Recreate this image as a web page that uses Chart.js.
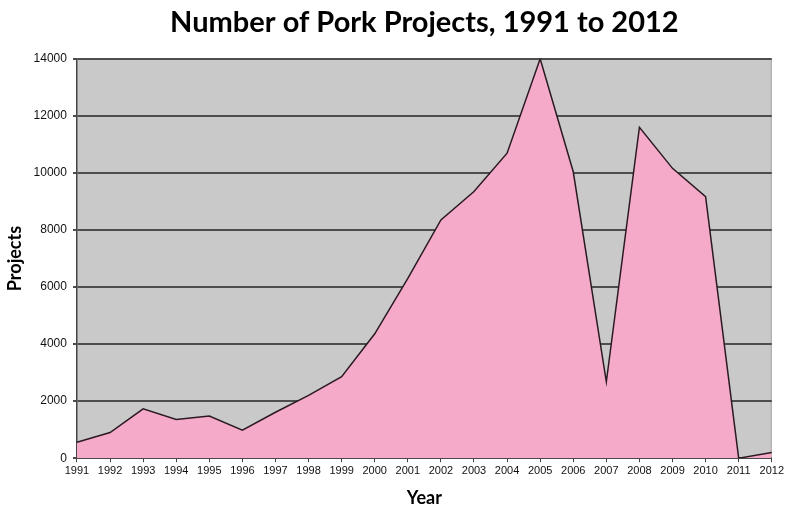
<!DOCTYPE html>
<html>
<head>
<meta charset="utf-8">
<script src="https://cdn.jsdelivr.net/npm/chart.js@4/dist/chart.umd.min.js"></script>
<style>
html,body{margin:0;padding:0;background:#fff;}
#wrap{width:786px;height:513px;}
</style>
</head>
<body>
<div id="wrap"><canvas id="c" width="786" height="513"></canvas></div>
<script>
const years = ["1991","1992","1993","1994","1995","1996","1997","1998","1999","2000","2001","2002","2003","2004","2005","2006","2007","2008","2009","2010","2011","2012"];
const projects = [560, 900, 1730, 1360, 1480, 980, 1610, 2200, 2860, 4360, 6300, 8350, 9350, 10690, 14000, 10040, 2680, 11600, 10160, 9170, 0, 200];
const yTicks = [0, 2000, 4000, 6000, 8000, 10000, 12000, 14000];

const plotBg = {
  id: 'plotBg',
  beforeDraw(chart) {
    const {ctx, chartArea: a} = chart;
    ctx.save();
    ctx.fillStyle = '#c9c9c9';
    ctx.fillRect(a.left, a.top, a.right - a.left, a.bottom - a.top);
    ctx.strokeStyle = '#a8a8a8';
    ctx.lineWidth = 1;
    ctx.beginPath();
    ctx.moveTo(a.left, a.top + 0.5);
    ctx.lineTo(a.right - 0.5, a.top + 0.5);
    ctx.lineTo(a.right - 0.5, a.bottom);
    ctx.stroke();
    ctx.restore();
  }
};

new Chart(document.getElementById('c'), {
  type: 'line',
  data: {
    labels: years,
    datasets: [{
      data: projects,
      fill: 'origin',
      backgroundColor: '#f5aac9',
      borderColor: '#2b1a22',
      borderWidth: 1.5,
      pointRadius: 0,
      tension: 0
    }]
  },
  options: {
    responsive: false,
    animation: false,
    layout: { padding: { left: 4, right: 14, top: 0, bottom: 4 } },
    plugins: {
      legend: { display: false },
      tooltip: { enabled: false },
      title: {
        display: true,
        fullSize: false,
        text: 'Number of Pork Projects, 1991 to 2012',
        color: '#000',
        font: { family: 'Lato', size: 29, weight: 'bold' },
        padding: { top: 5, bottom: 19 }
      }
    },
    scales: {
      x: {
        offset: false,
        grid: { display: true, drawOnChartArea: false, drawTicks: true, tickLength: 4, color: '#444', lineWidth: 1 },
        border: { display: true, color: '#444', width: 1.5 },
        ticks: { color: '#111', font: { family: 'Liberation Sans', size: 11 }, maxRotation: 0, autoSkip: false, padding: 2 },
        title: { display: true, text: 'Year', color: '#000', font: { family: 'Lato', size: 18, weight: 'bold' }, padding: { top: 8, bottom: 0 } }
      },
      y: {
        min: 0,
        max: 14000,
        afterBuildTicks(axis) { axis.ticks = yTicks.map(v => ({ value: v })); },
        grid: { display: true, drawOnChartArea: true, drawTicks: true, tickLength: 4, color: '#4d4d4d', lineWidth: 2 },
        border: { display: true, color: '#444', width: 1.5 },
        ticks: { color: '#111', font: { family: 'Liberation Sans', size: 12 }, padding: 6, callback: v => String(v) },
        title: { display: true, text: 'Projects', color: '#000', font: { family: 'Lato', size: 18, weight: 'bold' }, padding: { top: 0, bottom: 2 } }
      }
    }
  },
  plugins: [plotBg]
});
</script>
</body>
</html>
